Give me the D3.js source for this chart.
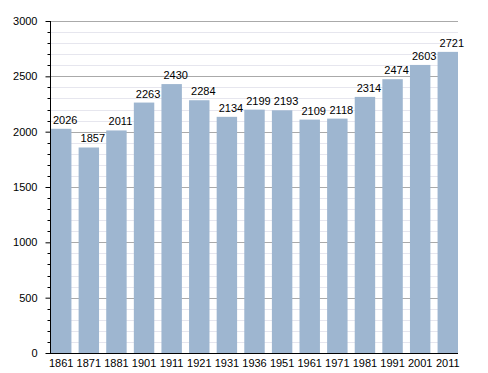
<!DOCTYPE html>
<html>
<head>
<meta charset="utf-8">
<script src="https://cdn.jsdelivr.net/npm/d3@7"></script>
<style>
  body { margin: 0; background: #fff; }
  text { font-family: "Liberation Sans", Arial, sans-serif; fill: #000; }
</style>
</head>
<body>
<svg></svg>
<script>
var width = 488;
var height = 373;

var years = ["1861", "1871", "1881", "1901", "1911", "1921", "1931", "1936",
             "1951", "1961", "1971", "1981", "1991", "2001", "2011"];
var population = [2026, 1857, 2011, 2263, 2430, 2284, 2134, 2199,
                  2193, 2109, 2118, 2314, 2474, 2603, 2721];
var majorTicks = [0, 500, 1000, 1500, 2000, 2500, 3000];
var minorTicks = d3.range(0, 3001, 100);

var plotLeft = 50, plotRight = 458, plotTop = 21, plotBottom = 353;

var svg = d3.select("svg")
    .attr("width", width)
    .attr("height", height);

var x = d3.scaleBand()
    .domain(years)
    .range([plotLeft + 1, plotRight])
    .paddingInner(0.26)
    .paddingOuter(0);

var y = d3.scaleLinear()
    .domain([0, 3000])
    .range([plotBottom, plotTop]);

// grid lines
svg.append("g")
    .selectAll("line")
    .data(minorTicks.filter(d => d % 500 !== 0))
    .enter()
    .append("line")
        .attr("x1", plotLeft)
        .attr("x2", plotRight)
        .attr("y1", d => Math.round(y(d)) + 0.5)
        .attr("y2", d => Math.round(y(d)) + 0.5)
        .attr("stroke", "#e6e6ee");

svg.append("g")
    .selectAll("line")
    .data(majorTicks.filter(d => d > 0))
    .enter()
    .append("line")
        .attr("x1", plotLeft)
        .attr("x2", plotRight)
        .attr("y1", d => Math.round(y(d)) + 0.5)
        .attr("y2", d => Math.round(y(d)) + 0.5)
        .attr("stroke", "#aaaaaa");

// bars
svg.append("g")
    .selectAll("rect")
    .data(population)
    .enter()
    .append("rect")
        .attr("x", (d, i) => x(years[i]))
        .attr("y", d => y(d))
        .attr("width", x.bandwidth())
        .attr("height", d => plotBottom - y(d))
        .attr("fill", "#9eb6d0");

// value labels
svg.append("g")
    .selectAll("text")
    .data(population)
    .enter()
    .append("text")
        .attr("x", (d, i) => x(years[i]) + x.bandwidth() / 2 + 4)
        .attr("y", d => y(d) - 5)
        .attr("text-anchor", "middle")
        .style("font-size", "11px")
        .text(d => d);

// y axis
var yAxis = d3.axisLeft(y)
    .tickValues(majorTicks)
    .tickFormat(d3.format("d"))
    .tickSize(5)
    .tickPadding(8);

var gy = svg.append("g")
    .attr("transform", `translate(${plotLeft + 0.5},0)`)
    .call(yAxis);
gy.select(".domain").attr("stroke", "#000").attr("d", `M0,${plotTop}V${plotBottom}`);
gy.selectAll("text").style("font-size", "11px").style("font-family", "Liberation Sans, Arial, sans-serif");

gy.selectAll(".minor")
    .data(minorTicks.filter(d => d % 500 !== 0))
    .enter()
    .append("line")
        .classed("minor", true)
        .attr("x1", -3)
        .attr("x2", 0)
        .attr("y1", d => Math.round(y(d)) + 0.5)
        .attr("y2", d => Math.round(y(d)) + 0.5)
        .attr("stroke", "#000");

// x axis
var xAxis = d3.axisBottom(x).tickSize(0).tickPadding(6);
var gx = svg.append("g")
    .attr("transform", `translate(0,${plotBottom + 0.5})`)
    .call(xAxis);
gx.select(".domain").attr("stroke", "#000").attr("d", `M${plotLeft},0H${plotRight}`);
gx.selectAll("text").style("font-size", "11px").style("font-family", "Liberation Sans, Arial, sans-serif");
</script>
</body>
</html>
